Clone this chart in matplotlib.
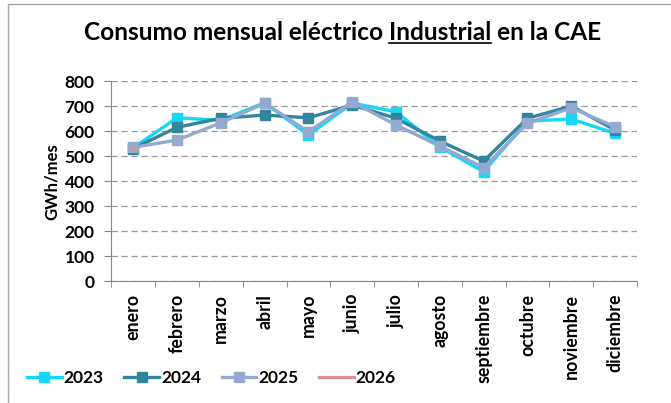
import matplotlib

matplotlib.use("Agg")
import matplotlib.pyplot as plt
import numpy as np
from matplotlib.font_manager import FontProperties
from matplotlib.lines import Line2D
from matplotlib.patches import Rectangle

plt.rcParams["font.family"] = ["Lato", "DejaVu Sans"]
plt.rcParams["font.weight"] = "bold"

MONTHS = ["enero", "febrero", "marzo", "abril", "mayo", "junio",
          "julio", "agosto", "septiembre", "octubre", "noviembre", "diciembre"]
V2023 = [533, 653, 643, 713, 584, 712, 677, 536, 438, 640, 648, 591]
V2024 = [530, 615, 651, 664, 653, 704, 651, 560, 480, 651, 700, 604]
V2025 = [535, 564, 633, 711, 597, 717, 624, 540, 454, 631, 693, 617]
V2026 = [532]
YEARS = ["2023", "2024", "2025", "2026"]
COLORS = ["#17D7F7", "#31859C", "#93A9D0", "#D99594"]

W, H = 671, 403
fig = plt.figure(figsize=(W / 100, H / 100), dpi=100)

# chart frame like the spreadsheet chart area
fig.patches.append(Rectangle((8 / W, -0.01), 1.0, 1 - 4 / H + 0.01,
                             transform=fig.transFigure, fill=False,
                             edgecolor="#A6A6A6", linewidth=1.0))

ax = fig.add_axes([111.3 / W, 1 - 281.3 / H, (637 - 111.3) / W, (281.3 - 81) / H])

x = np.arange(len(MONTHS))
series = [V2023, V2024, V2025]
for vals, col, lab in zip(series, COLORS[:3], YEARS[:3]):
    ax.plot(x[:len(vals)], vals, color=col, lw=2.4, marker="s", ms=7.5,
            mec=col, mfc=col, label=lab)
ax.plot(x[:len(V2026)], V2026, color=COLORS[3], lw=2.4, marker="_", ms=6,
        mew=2.5, label=YEARS[3])

ax.set_xlim(-0.5, len(MONTHS) - 0.5)
ax.set_ylim(0, 800)
ax.set_yticks(np.arange(0, 801, 100))
ax.set_yticklabels([str(v) for v in range(0, 801, 100)], fontsize=12.5, fontweight="bold")
ax.set_xticks(x)
ax.set_xticklabels(MONTHS, rotation=90, fontsize=12.8, fontweight="bold")
ax.set_xticks(np.arange(-0.5, len(MONTHS)), minor=True)
ax.tick_params(axis="x", which="major", length=0, pad=9)
ax.tick_params(axis="x", which="minor", length=4, color="#868686", direction="out")
ax.tick_params(axis="y", length=5, color="#868686", pad=7)

ax.grid(axis="y", color="#999999", linestyle=(0, (5, 3)), linewidth=0.9)
ax.set_axisbelow(True)
for s in ("top", "right"):
    ax.spines[s].set_visible(False)
for s in ("left", "bottom"):
    ax.spines[s].set_color("#868686")

ax.set_ylabel("GWh/mes", fontsize=12, fontweight="bold")
ax.yaxis.set_label_coords((60 - 111.3) / (637 - 111.3), 0.5)

# title with underlined "Industrial"
pre, mid, post = "Consumo mensual eléctrico ", "Industrial", " en la CAE"
fp = FontProperties(family=["Lato", "DejaVu Sans"], weight="bold", size=17.6)
r = fig.canvas.get_renderer()
w_pre = r.get_text_width_height_descent(pre, fp, ismath=False)[0]
w_mid = r.get_text_width_height_descent(mid, fp, ismath=False)[0]
w_all = r.get_text_width_height_descent(pre + mid + post, fp, ismath=False)[0]
cx, base_y = 342.5, 39.5
fig.text(cx / W, 1 - base_y / H, pre + mid + post, fontproperties=fp,
         ha="center", va="baseline")
x0 = cx - w_all / 2 + w_pre
fig.add_artist(Line2D([x0 / W, (x0 + w_mid) / W], [1 - 43 / H, 1 - 43 / H],
                      transform=fig.transFigure, color="black", lw=1.2))

handles = [Line2D([], [], color=c, lw=2.4, marker="s", ms=7.5) for c in COLORS[:3]]
handles.append(Line2D([], [], color=COLORS[3], lw=2.4))
fig.legend(handles, YEARS, loc="center left", bbox_to_anchor=(27 / W, 1 - 378 / H),
           ncol=4, frameon=False, fontsize=12.5, handlelength=2.0,
           handletextpad=0.1, columnspacing=1.2, borderaxespad=0, borderpad=0)

fig.savefig("out.png", dpi=100)
